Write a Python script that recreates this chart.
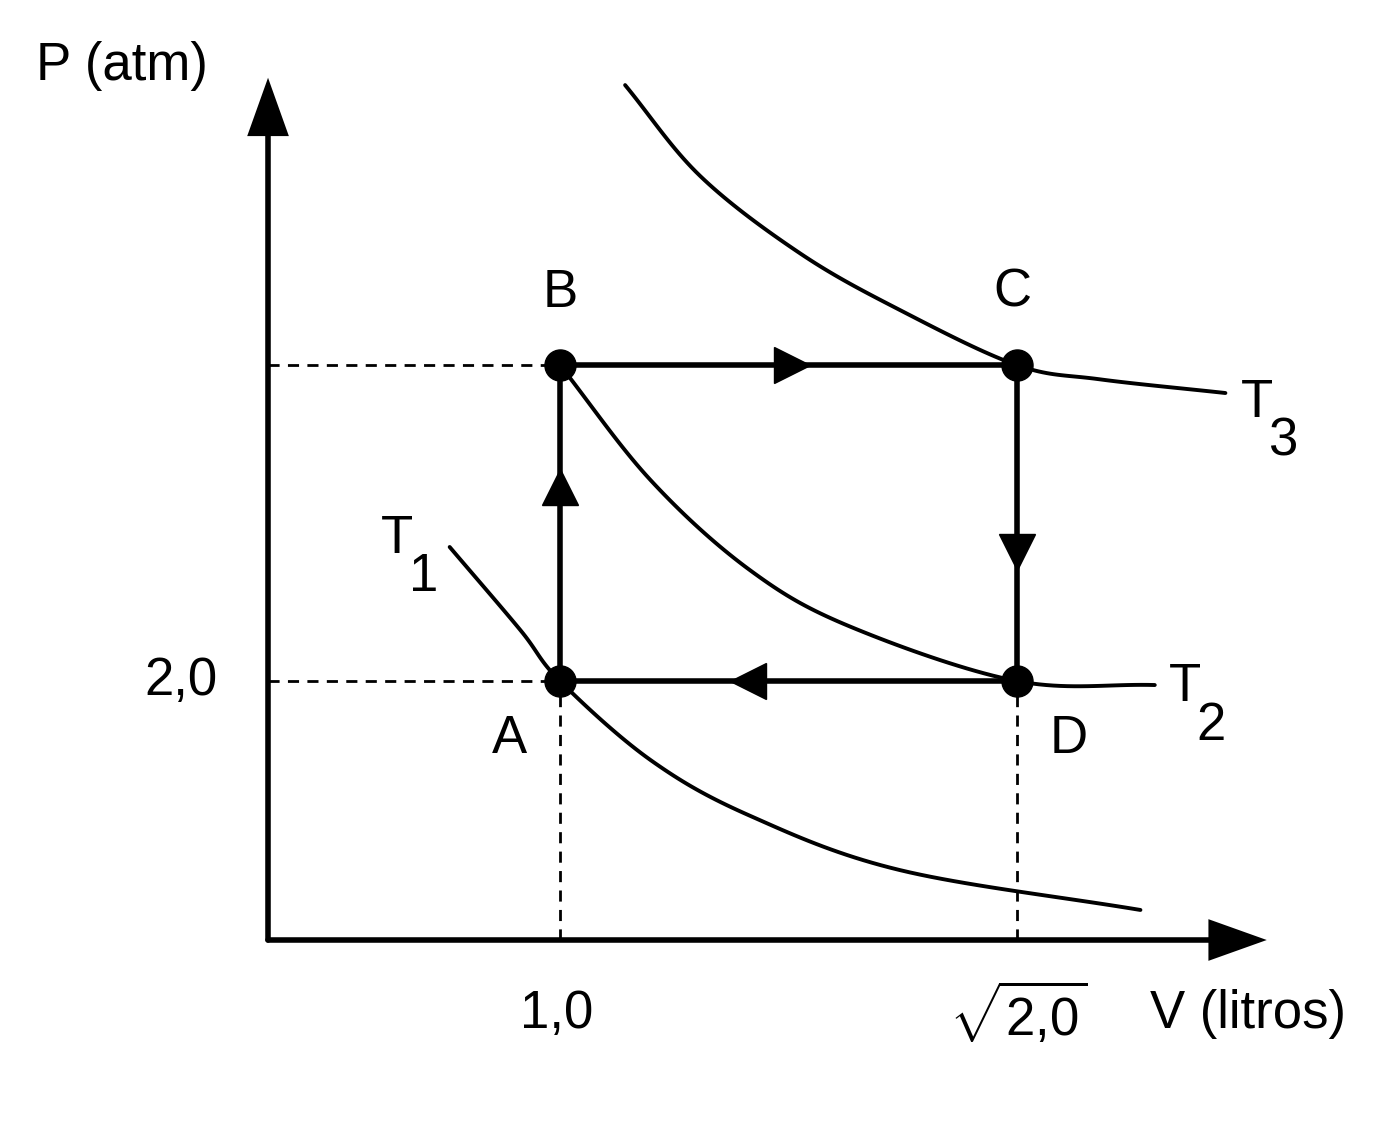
import numpy as np, pandas as pd, matplotlib
matplotlib.use("Agg")
import matplotlib.pyplot as plt, seaborn as sns

sns.set_style("white")
plt.rcParams['font.family'] = ['Liberation Sans', 'DejaVu Sans']
plt.rcParams['text.color'] = 'black'
plt.rcParams['mathtext.fontset'] = 'custom'
plt.rcParams['mathtext.rm'] = 'Liberation Sans'
plt.rcParams['mathtext.it'] = 'Liberation Sans'

states = ["A", "B", "C", "D"]
V_state = [1.0, 1.0, 1.41421, 1.41421]
P_state = [2.0, 4.44, 4.44, 2.0]
T3_V = [1.059, 1.127, 1.218, 1.308, 1.414, 1.489, 1.603]
T3_P = [6.602, 5.900, 5.300, 4.865, 4.440, 4.330, 4.224]
T2_V = [1.0, 1.082, 1.172, 1.263, 1.414, 1.539]
T2_P = [4.440, 3.552, 2.857, 2.420, 2.0, 1.969]
T1_V = [0.900, 0.964, 1.0, 1.082, 1.172, 1.308, 1.526]
T1_P = [3.035, 2.394, 2.0, 1.390, 0.960, 0.540, 0.232]

def smooth(x, y, n=20):
    p = np.column_stack([x, y]); p = np.vstack([2*p[0]-p[1], p, 2*p[-1]-p[-2]])
    out = []
    for i in range(1, len(p)-2):
        p0, p1, p2, p3 = p[i-1], p[i], p[i+1], p[i+2]
        for t in np.linspace(0, 1, n, endpoint=False):
            out.append(0.5*((2*p1)+(-p0+p2)*t+(2*p0-5*p1+4*p2-p3)*t*t+(-p0+3*p1-3*p2+p3)*t**3))
    out.append(p[-2]); out = np.array(out)
    return out[:, 0], out[:, 1]

fig = plt.figure(figsize=(13.95, 11.27), dpi=100)
ax = fig.add_axes([0, 0, 1, 1])
ax.set_xlim(0.4925, 1.7567); ax.set_ylim(-1.444, 7.259); ax.axis("off")
V0, P0 = 0.7354, 0.0
lw = 4
ax.plot([V0, V0], [P0, 6.3], color="k", lw=lw)
ax.plot([V0, 1.605], [P0, P0], color="k", lw=lw)
ax.annotate("", xy=(V0, 6.68), xytext=(V0, 6.2), arrowprops=dict(arrowstyle="-|>,head_width=0.5,head_length=1.4", color="k", lw=0, mutation_scale=30))
ax.annotate("", xy=(1.643, 0), xytext=(1.59, 0), arrowprops=dict(arrowstyle="-|>,head_width=0.5,head_length=1.4", color="k", lw=0, mutation_scale=30))
for V, P in [(T3_V, T3_P), (T2_V, T2_P), (T1_V, T1_P)]:
    xs, ys = smooth(V, P)
    sns.lineplot(x=xs, y=ys, sort=False, ax=ax, color="k", lw=2.8, estimator=None)
dk = dict(color="k", lw=2, ls=(0, (4, 3)))
ax.plot([V0, V_state[1]], [P_state[1]]*2, **dk)
ax.plot([V0, V_state[0]], [P_state[0]]*2, **dk)
ax.plot([V_state[0]]*2, [P0, P_state[0]], **dk)
ax.plot([V_state[3]]*2, [P0, P_state[3]], **dk)
cyc = pd.DataFrame({"V": V_state + [V_state[0]], "P": P_state + [P_state[0]]})
sns.lineplot(data=cyc, x="V", y="P", sort=False, estimator=None, ax=ax, color="k", lw=4)
ax.scatter(V_state, P_state, s=500, color="k", zorder=5)
ax.plot(1.0, 3.5, marker="^", ms=26, color="k")
ax.plot(1.21, 4.44, marker=">", ms=26, color="k")
ax.plot(1.41421, 3.0, marker="v", ms=26, color="k")
ax.plot(1.17, 2.0, marker="<", ms=26, color="k")
fs = 38
ax.text(1.0, 5.0, "B", fontsize=fs, ha="center", va="center")
ax.text(1.41, 5.0, "C", fontsize=fs, ha="center", va="center")
ax.text(0.954, 1.55, "A", fontsize=fs, ha="center", va="center")
ax.text(1.461, 1.55, "D", fontsize=fs, ha="center", va="center")
ax.text(1.617, 4.15, "T", fontsize=fs, ha="left", va="center")
ax.text(1.642, 3.85, "3", fontsize=fs, ha="left", va="center")
ax.text(1.552, 1.95, "T", fontsize=fs, ha="left", va="center")
ax.text(1.577, 1.65, "2", fontsize=fs, ha="left", va="center")
ax.text(0.838, 3.1, "T", fontsize=fs, ha="left", va="center")
ax.text(0.863, 2.8, "1", fontsize=fs, ha="left", va="center")
ax.text(0.69, 2.0, "2,0", fontsize=fs, ha="right", va="center")
ax.text(0.997, -0.57, "1,0", fontsize=fs, ha="center", va="center")
ax.text(1.415, -0.57, r"$\sqrt{2{,}0}$", fontsize=fs, ha="center", va="center")
ax.text(1.535, -0.57, "V (litros)", fontsize=fs, ha="left", va="center")
ax.text(0.525, 6.75, "P (atm)", fontsize=fs, ha="left", va="center")
fig.savefig("out.png", dpi=100, facecolor="white")
